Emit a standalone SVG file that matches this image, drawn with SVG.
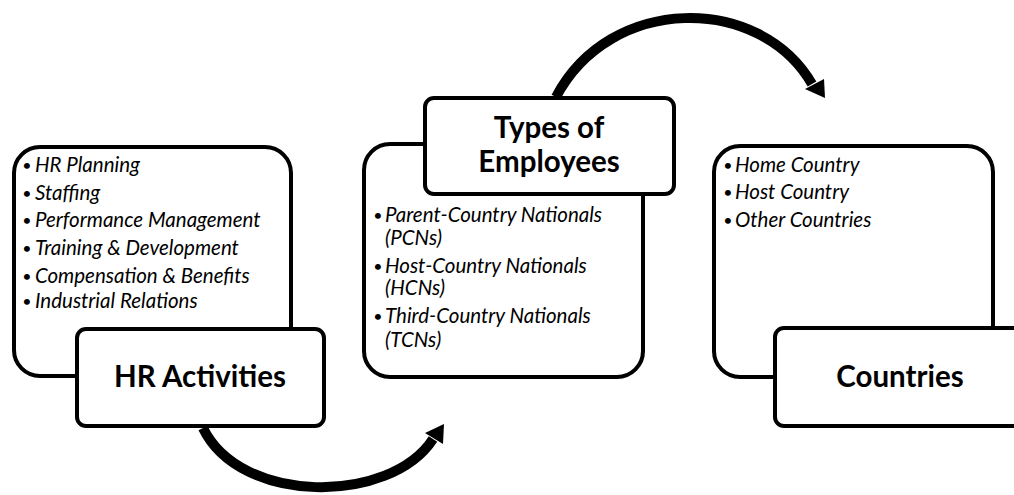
<svg xmlns="http://www.w3.org/2000/svg" width="1014" height="495" viewBox="0 0 1014 495">
<style>
.box{fill:#fff;stroke:#000;stroke-width:4}
.title{font-family:Lato,"Open Sans",sans-serif;font-weight:bold;font-size:29.5px;fill:#000;text-anchor:middle}
.item{font-family:Lato,"Open Sans",sans-serif;font-style:italic;font-size:20.5px;fill:#000}
.bul{font-family:Lato,"Open Sans",sans-serif;font-size:16px;fill:#000;text-anchor:middle}
.arc{fill:none;stroke:#000;stroke-width:10}
</style>
<rect width="1014" height="495" fill="#fff"/>
<g id="connectors">
<path class="arc" d="M556 97 C610 -6 760 -6 812 84"/>
<polygon points="805,89 824,79 825,98" fill="#000"/>
<path class="arc" d="M203 428 C240 505 390 505 433 439"/>
<polygon points="425,433 444,424 443,444" fill="#000"/>
</g>
<g id="hr-activities">
<rect class="box" x="14" y="147" width="277" height="229" rx="26"/>
<g class="bul">
<text x="27" y="171">•</text>
<text x="27" y="199">•</text>
<text x="27" y="226">•</text>
<text x="27" y="254">•</text>
<text x="27" y="282">•</text>
<text x="27" y="307">•</text>
</g>
<g class="item">
<text x="35" y="172">HR Planning</text>
<text x="35" y="200">Staffing</text>
<text x="35" y="227">Performance Management</text>
<text x="35" y="255">Training &amp; Development</text>
<text x="35" y="283">Compensation &amp; Benefits</text>
<text x="35" y="308">Industrial Relations</text>
</g>
<rect class="box" x="77" y="329" width="247" height="97" rx="9"/>
<text class="title" x="200" y="387">HR Activities</text>
</g>
<g id="types-of-employees">
<rect class="box" x="364" y="144" width="279" height="233" rx="26"/>
<g class="bul">
<text x="378" y="221">•</text>
<text x="378" y="272">•</text>
<text x="378" y="322">•</text>
</g>
<g class="item">
<text x="385" y="222">Parent-Country Nationals</text>
<text x="385" y="245">(PCNs)</text>
<text x="385" y="273">Host-Country Nationals</text>
<text x="385" y="295">(HCNs)</text>
<text x="385" y="323">Third-Country Nationals</text>
<text x="385" y="347">(TCNs)</text>
</g>
<rect class="box" x="425" y="98" width="249" height="96" rx="9"/>
<text class="title" x="549" y="138">Types of</text>
<text class="title" x="549" y="172">Employees</text>
</g>
<g id="countries">
<rect class="box" x="714" y="146" width="279" height="231" rx="26"/>
<g class="bul">
<text x="728" y="171">•</text>
<text x="728" y="198">•</text>
<text x="728" y="226">•</text>
</g>
<g class="item">
<text x="735" y="172">Home Country</text>
<text x="735" y="199">Host Country</text>
<text x="735" y="227">Other Countries</text>
</g>
<rect class="box" x="775" y="328" width="260" height="98" rx="9"/>
<text class="title" x="900" y="387">Countries</text>
</g>
</svg>
